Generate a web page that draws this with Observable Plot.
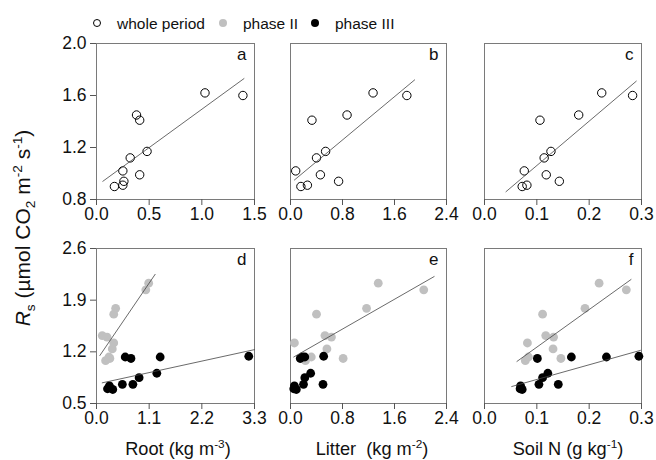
<!DOCTYPE html>
<html><head><meta charset="utf-8">
<script src="https://cdn.jsdelivr.net/npm/d3@7"></script>
<script src="https://cdn.jsdelivr.net/npm/@observablehq/plot@0.6"></script>
<style>
body{margin:0;background:#fff;font-family:"Liberation Sans",Arial,sans-serif;color:#111;}
#wrap{position:relative;width:656px;height:460px;overflow:hidden;background:#fff;}
.panel{position:absolute;}
.t{position:absolute;white-space:nowrap;line-height:1;}
.t sub,.t sup{font-size:65%;line-height:0;}
.dot{position:absolute;width:8px;height:8px;border-radius:50%;box-sizing:border-box;}
</style></head><body><div id="wrap"></div>
<script>
// ---- data ----
// whole period (open circles), Rs and the three drivers
const rsWhole     = [0.90, 0.91, 0.94, 1.02, 1.12, 0.99, 1.17, 1.45, 1.41, 1.62, 1.60];
const rootWhole   = [0.17, 0.25, 0.26, 0.25, 0.32, 0.41, 0.48, 0.38, 0.41, 1.03, 1.39];
const litterWhole = [0.16, 0.26, 0.74, 0.08, 0.40, 0.46, 0.54, 0.87, 0.33, 1.27, 1.79];
const soilNWhole  = [0.072, 0.081, 0.143, 0.076, 0.114, 0.118, 0.127, 0.180, 0.106, 0.224, 0.283];
// phase II (grey)
const rs2     = [1.32, 1.08, 1.13, 1.71, 1.42, 1.40, 1.24, 1.11, 1.79, 2.13, 2.04];
const root2   = [0.36, 0.19, 0.26, 0.36, 0.12, 0.22, 0.33, 0.28, 0.40, 1.09, 1.03];
const litter2 = [0.06, 0.23, 0.32, 0.40, 0.53, 0.63, 0.56, 0.81, 1.17, 1.35, 2.05];
const soilN2  = [0.082, 0.078, 0.084, 0.111, 0.117, 0.132, 0.131, 0.146, 0.192, 0.219, 0.271];
// phase III (black)
const rs3     = [0.70, 0.74, 0.69, 0.76, 0.76, 0.85, 0.91, 1.11, 1.13, 1.13, 1.14];
const root3   = [0.23, 0.27, 0.34, 0.54, 0.76, 0.89, 1.26, 0.72, 0.60, 1.33, 3.18];
const litter3 = [0.05, 0.06, 0.09, 0.50, 0.20, 0.22, 0.31, 0.15, 0.22, 0.18, 0.51];
const soilN3  = [0.068, 0.069, 0.072, 0.104, 0.141, 0.111, 0.121, 0.101, 0.166, 0.233, 0.295];
// fitted regression lines (end points)
const fitA = {x: [0.06, 1.40], y: [0.94, 1.73]};
const fitB = {x: [0.06, 1.91], y: [0.95, 1.72]};
const fitC = {x: [0.041, 0.290], y: [0.86, 1.71]};
const fitD2 = {x: [0.07, 1.225], y: [1.15, 2.25]};
const fitD3 = {x: [0.12, 3.3], y: [0.78, 1.23]};
const fitE2 = {x: [0.05, 2.21], y: [1.13, 2.22]};
const fitF2 = {x: [0.062, 0.280], y: [1.07, 2.18]};
const fitF3 = {x: [0.052, 0.298], y: [0.73, 1.22]};
// axes
const yTicksTop = [0.8, 1.2, 1.6, 2.0];
const yTicksBottom = [0.5, 1.2, 1.9, 2.6];
const xTicksRoot = [0, 0.5, 1.0, 1.5];
const xTicksRoot2 = [0, 1.1, 2.2, 3.3];
const xTicksLitter = [0, 0.8, 1.6, 2.4];
const xTicksSoilN = [0, 0.1, 0.2, 0.3];
const panelLetters = ["a", "b", "c", "d", "e", "f"];

const GREY = "#c0c0c0";
const pts = (xs, ys) => xs.map((x, i) => ({x, y: ys[i]}));
const wrap = document.getElementById("wrap");

const colLeft = [96, 290, 484], colW = [158, 156, 157];
const rowTop = [43, 248], rowH = [156, 155];
const ML = 50, MR = 20, MT = 10, MB = 30;
const TICK_FONT = 17.5;

function panel(col, row, xTicks, yTicks, letter, layers) {
  const fw = colW[col], fh = rowH[row];
  const marks = [
    Plot.frame({stroke: "#7a7a7a", strokeWidth: 1}),
    Plot.axisX({ticks: xTicks, tickFormat: d3.format(".1f"), tickSize: 6, tickPadding: 2, fontSize: TICK_FONT, label: null, stroke: "#555"}),
  ];
  if (col === 0) marks.push(Plot.axisY({ticks: yTicks, tickFormat: d3.format(".1f"), tickSize: 6, tickPadding: 4, fontSize: TICK_FONT, label: null, stroke: "#555"}));
  marks.push(...layers);
  marks.push(Plot.text([letter], {frameAnchor: "top-right", text: d => d, dx: -8, dy: 4, fontSize: 17, lineAnchor: "top", textAnchor: "end", fill: "#111"}));
  const p = Plot.plot({
    width: fw + ML + MR, height: fh + MT + MB,
    marginLeft: ML, marginRight: MR, marginTop: MT, marginBottom: MB,
    x: {domain: [xTicks[0], xTicks[xTicks.length - 1]]},
    y: {domain: [yTicks[0], yTicks[yTicks.length - 1]], axis: col === 0 ? undefined : null},
    style: {background: "transparent", overflow: "visible", fontFamily: "Liberation Sans, Arial, sans-serif", fontSize: TICK_FONT + "px", color: "#111"},
    marks
  });
  p.classList.add("panel");
  p.style.left = (colLeft[col] - ML) + "px";
  p.style.top = (rowTop[row] - MT) + "px";
  wrap.appendChild(p);
}
const openDots = (xs, ys) => Plot.dot(pts(xs, ys), {x: "x", y: "y", r: 4.2, stroke: "#000", strokeWidth: 1, fill: "none"});
const greyDots = (xs, ys) => Plot.dot(pts(xs, ys), {x: "x", y: "y", r: 4.4, fill: GREY});
const blackDots = (xs, ys) => Plot.dot(pts(xs, ys), {x: "x", y: "y", r: 4.4, fill: "#000"});
const fit = f => Plot.line(pts(f.x, f.y), {x: "x", y: "y", stroke: "#444", strokeWidth: 0.8});

panel(0, 0, xTicksRoot, yTicksTop, panelLetters[0], [openDots(rootWhole, rsWhole), fit(fitA)]);
panel(1, 0, xTicksLitter, yTicksTop, panelLetters[1], [openDots(litterWhole, rsWhole), fit(fitB)]);
panel(2, 0, xTicksSoilN, yTicksTop, panelLetters[2], [openDots(soilNWhole, rsWhole), fit(fitC)]);
panel(0, 1, xTicksRoot2, yTicksBottom, panelLetters[3], [greyDots(root2, rs2), blackDots(root3, rs3), fit(fitD2), fit(fitD3)]);
panel(1, 1, xTicksLitter, yTicksBottom, panelLetters[4], [greyDots(litter2, rs2), blackDots(litter3, rs3), fit(fitE2)]);
panel(2, 1, xTicksSoilN, yTicksBottom, panelLetters[5], [greyDots(soilN2, rs2), blackDots(soilN3, rs3), fit(fitF2), fit(fitF3)]);

// ---- legend and titles (HTML text) ----
function addText(html, left, top, size, extra) {
  const d = document.createElement("div");
  d.className = "t";
  d.innerHTML = html;
  d.style.left = left + "px"; d.style.top = top + "px"; d.style.fontSize = size + "px";
  if (extra) Object.assign(d.style, extra);
  wrap.appendChild(d);
  return d;
}
function addDot(cx, cy, fill, stroke) {
  const d = document.createElement("div");
  d.className = "dot";
  d.style.left = (cx - 4) + "px"; d.style.top = (cy - 4) + "px";
  d.style.background = fill; d.style.border = stroke ? "1px solid " + stroke : "none";
  wrap.appendChild(d);
}
const legendItems = [
  {label: "whole period", fill: "#fff", stroke: "#000", cx: 97, tx: 117},
  {label: "phase II", fill: GREY, stroke: null, cx: 223, tx: 243},
  {label: "phase III", fill: "#000", stroke: null, cx: 315, tx: 335},
];
legendItems.forEach(it => { addDot(it.cx, 23, it.fill, it.stroke); addText(it.label, it.tx, 16, 15.5); });

const xTitles = [
  {html: "Root (kg m<sup>-3</sup>)", cx: 178},
  {html: "Litter&nbsp; (kg m<sup>-2</sup>)", cx: 372},
  {html: "Soil N (g kg<sup>-1</sup>)", cx: 568},
];
xTitles.forEach(t => addText(t.html, t.cx, 440, 18.2, {transform: "translateX(-50%)"}));
addText("<i>R</i><sub>s</sub> (&micro;mol CO<sub>2</sub> m<sup>-2</sup> s<sup>-1</sup>)", 22, 228, 21,
  {transform: "translate(-50%,-50%) rotate(-90deg)"});
</script></body></html>
